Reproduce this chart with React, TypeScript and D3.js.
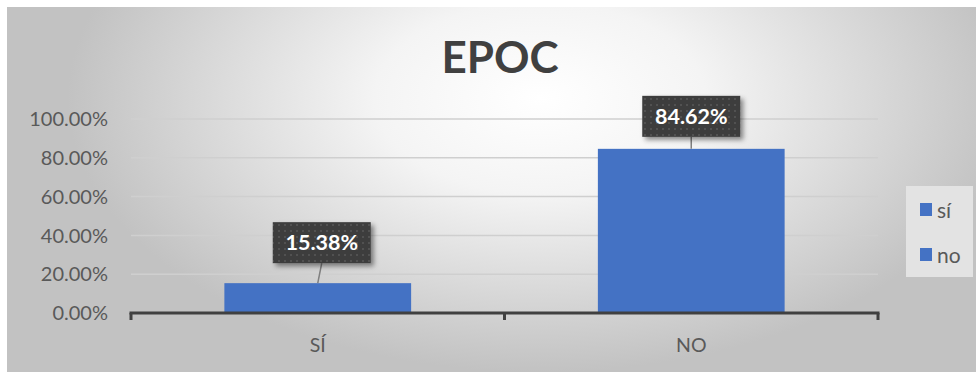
import React from "react";
import * as d3 from "d3";

const categories = ["SÍ", "NO"];
const values = [15.38, 84.62];
const yTicks = [0, 20, 40, 60, 80, 100];
const legendLabels = ["sí", "no"];
const title = "EPOC";

const W = 978;
const H = 372;
const FONT = "Lato, 'Open Sans', sans-serif";

export default function App() {
  const plot = { left: 131, right: 878, top: 119, bottom: 313 };
  const x = d3.scaleBand<string>().domain(categories).range([plot.left, plot.right]).paddingInner(0.5).paddingOuter(0.25);
  const y = d3.scaleLinear().domain([0, 100]).range([plot.bottom, plot.top]);
  const fmt = (v: number) => v.toFixed(2) + "%";
  const bounds = [plot.left, ...categories.map((_, i) => plot.left + ((plot.right - plot.left) * (i + 1)) / categories.length)];

  // label box offsets above each bar
  const labelGap = [20, 12];

  return (
    <svg width={W} height={H} style={{ position: "absolute", left: 0, top: 0 }} fontFamily={FONT}>
      <defs>
        <radialGradient id="bg" cx="0.55" cy="0.25" r="0.75" gradientTransform="translate(0.55 0.25) scale(0.65 1) translate(-0.55 -0.25)">
          <stop offset="0" stopColor="#ffffff" />
          <stop offset="0.35" stopColor="#f4f4f4" />
          <stop offset="1" stopColor="#c2c2c2" />
        </radialGradient>
        <pattern id="dots" width="6" height="6" patternUnits="userSpaceOnUse">
          <rect width="6" height="6" fill="#3d3d3d" />
          <circle cx="3" cy="3" r="0.9" fill="#5a5a5a" />
        </pattern>
        <filter id="shadow" x="-20%" y="-30%" width="150%" height="170%">
          <feDropShadow dx="3" dy="3" stdDeviation="2.5" floodColor="#000" floodOpacity="0.45" />
        </filter>
      </defs>
      <rect x={0} y={0} width={W} height={H} fill="#ffffff" />
      <rect x={7} y={7} width={969} height={H - 7} fill="url(#bg)" />

      <text x={500} y={73} textAnchor="middle" fontSize={44} fontWeight={700} fill="#404040">
        {title}
      </text>

      {yTicks.map((t) => (
        <g key={t}>
          {t > 0 && <line x1={plot.left} x2={plot.right} y1={y(t)} y2={y(t)} stroke="#cfcfcf" strokeWidth={1.5} />}
          <text x={108} y={y(t)} dy="0.36em" textAnchor="end" fontSize={20} fill="#595959">
            {fmt(t)}
          </text>
        </g>
      ))}

      {categories.map((c, i) => (
        <rect key={c} x={x(c)} y={y(values[i])} width={x.bandwidth()} height={plot.bottom - y(values[i])} fill="#4472C4" />
      ))}

      <line x1={plot.left - 1.5} x2={plot.right + 1.5} y1={plot.bottom} y2={plot.bottom} stroke="#404040" strokeWidth={3} />
      {bounds.map((b) => (
        <line key={b} x1={b} x2={b} y1={plot.bottom} y2={plot.bottom + 7} stroke="#404040" strokeWidth={3} />
      ))}

      {categories.map((c) => (
        <text key={c} x={(x(c) as number) + x.bandwidth() / 2} y={345} dy="0.35em" textAnchor="middle" fontSize={19.5} fill="#595959">
          {c}
        </text>
      ))}

      {categories.map((c, i) => {
        const cx = (x(c) as number) + x.bandwidth() / 2;
        const top = y(values[i]);
        const boxW = 98;
        const boxH = 41;
        const bx = i === 0 ? cx - 45 : cx - 49;
        const by = top - labelGap[i] - boxH;
        return (
          <g key={c}>
            <line x1={bx + boxW / 2} y1={by + boxH} x2={cx} y2={top} stroke="#7f7f7f" strokeWidth={1.5} />
            <rect x={bx} y={by} width={boxW} height={boxH} fill="url(#dots)" filter="url(#shadow)" />
            <text x={bx + boxW / 2} y={by + boxH / 2} dy="0.36em" textAnchor="middle" fontSize={21.5} fontWeight={700} fill="#ffffff">
              {fmt(values[i])}
            </text>
          </g>
        );
      })}

      <rect x={906} y={186} width={67} height={91} fill="#e3e3e3" />
      {legendLabels.map((l, i) => (
        <g key={l}>
          <rect x={920} y={203 + i * 45} width={12} height={13} fill="#4472C4" />
          <text x={937} y={210 + i * 45} dy="0.36em" fontSize={21} fill="#595959">
            {l}
          </text>
        </g>
      ))}
    </svg>
  );
}
